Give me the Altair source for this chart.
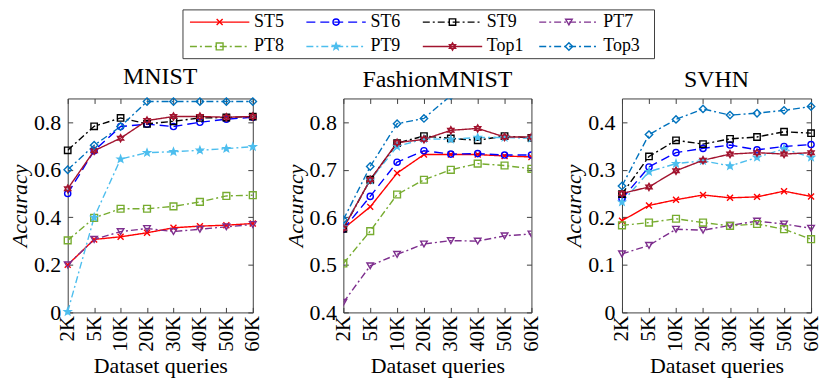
import math
import altair as alt
import pandas as pd

queries = ["2K", "5K", "10K", "20K", "30K", "40K", "50K", "60K"]
series = ["ST5", "ST6", "ST9", "PT7", "PT8", "PT9", "Top1", "Top3"]
colors = ["#FF0000", "#0000FF", "#000000", "#7E2F8E", "#77AC30", "#4DBEEE", "#A2142F", "#0072BD"]

mnist = {
    "ST5": [0.200, 0.307, 0.318, 0.335, 0.356, 0.363, 0.367, 0.374],
    "ST6": [0.500, 0.680, 0.782, 0.792, 0.782, 0.800, 0.813, 0.821],
    "ST9": [0.682, 0.783, 0.818, 0.793, 0.804, 0.818, 0.820, 0.824],
    "PT7": [0.200, 0.307, 0.340, 0.353, 0.340, 0.350, 0.360, 0.370],
    "PT8": [0.303, 0.398, 0.436, 0.436, 0.446, 0.465, 0.490, 0.493],
    "PT9": [0.003, 0.400, 0.645, 0.672, 0.676, 0.682, 0.689, 0.697],
    "Top1": [0.520, 0.680, 0.733, 0.807, 0.824, 0.824, 0.821, 0.824],
    "Top3": [0.600, 0.703, 0.782, 0.887, 0.887, 0.887, 0.887, 0.887],
}
fashion = {
    "ST5": [0.576, 0.622, 0.693, 0.732, 0.732, 0.732, 0.729, 0.727],
    "ST6": [0.575, 0.644, 0.716, 0.740, 0.733, 0.734, 0.731, 0.731],
    "ST9": [0.576, 0.679, 0.756, 0.771, 0.766, 0.762, 0.771, 0.767],
    "PT7": [0.421, 0.498, 0.522, 0.544, 0.551, 0.550, 0.561, 0.565],
    "PT8": [0.503, 0.571, 0.648, 0.679, 0.700, 0.713, 0.709, 0.702],
    "PT9": [0.580, 0.678, 0.749, 0.765, 0.764, 0.768, 0.768, 0.766],
    "Top1": [0.577, 0.679, 0.757, 0.764, 0.783, 0.787, 0.769, 0.769],
    "Top3": [0.595, 0.707, 0.797, 0.808, 0.856, 0.868, 0.872, 0.875],
}
svhn = {
    "ST5": [0.193, 0.225, 0.237, 0.247, 0.241, 0.243, 0.255, 0.244],
    "ST6": [0.239, 0.306, 0.336, 0.345, 0.352, 0.342, 0.349, 0.353],
    "ST9": [0.249, 0.328, 0.362, 0.354, 0.365, 0.369, 0.380, 0.377],
    "PT7": [0.123, 0.141, 0.175, 0.173, 0.183, 0.192, 0.186, 0.177],
    "PT8": [0.183, 0.189, 0.197, 0.189, 0.182, 0.186, 0.175, 0.154],
    "PT9": [0.232, 0.296, 0.313, 0.319, 0.308, 0.326, 0.344, 0.326],
    "Top1": [0.250, 0.264, 0.298, 0.320, 0.333, 0.336, 0.333, 0.336],
    "Top3": [0.266, 0.374, 0.406, 0.428, 0.415, 0.419, 0.425, 0.433],
}

# legend grid (column, row) of each series
legend_col = [0, 1, 2, 3, 0, 1, 2, 3]
legend_row = [0, 0, 0, 0, 1, 1, 1, 1]

FONT = "Liberation Serif"
FRAME = "#404040"

# styles
DASHDOT = [7, 3, 2, 3]
dashes = [[1, 0], [9, 5], DASHDOT, DASHDOT, DASHDOT, DASHDOT, [1, 0], DASHDOT]


def star_path(n, r_in):
    pts = []
    for i in range(2 * n):
        r = 1 if i % 2 == 0 else r_in
        a = math.pi * i / n - math.pi / 2
        pts.append(f"{r * math.cos(a):.3f},{r * math.sin(a):.3f}")
    return "M" + "L".join(pts) + "Z"


X_PATH = "M-1,-1L1,1M-1,1L1,-1"
HEX_PATH = "M0,-1L0.866,0.5L-0.866,0.5ZM0,1L0.866,-0.5L-0.866,-0.5Z"
shapes = [X_PATH, "circle", "square", "triangle-down", "square", star_path(5, 0.42), HEX_PATH, "diamond"]
fills = ["transparent"] * 5 + ["#4DBEEE"] + ["transparent"] * 2
sizes = [36, 55, 45, 60, 40, 110, 85, 60]

color_enc = alt.Color("series:N", scale=alt.Scale(domain=series, range=colors), legend=None)
dash_enc = alt.StrokeDash("series:N", scale=alt.Scale(domain=series, range=dashes), legend=None)
shape_enc = alt.Shape("series:N", scale=alt.Scale(domain=series, range=shapes), legend=None)
fill_enc = alt.Fill("series:N", scale=alt.Scale(domain=series, range=fills), legend=None)
size_enc = alt.Size("series:N", scale=alt.Scale(domain=series, range=sizes), legend=None)


def panel(name, data, ymin, ymax, ticks, w, clip_points):
    rows = []
    for s in series:
        for q, v in zip(queries, data[s]):
            rows.append({"series": s, "query": q, "acc": v})
    df = pd.DataFrame(rows)
    base = alt.Chart(df)
    xsc = alt.Scale(type="point", padding=0, domain=queries)
    ysc = alt.Scale(domain=[ymin, ymax], nice=False, zero=False)
    lines = base.mark_line(clip=True, strokeWidth=1.4).encode(
        x=alt.X("query:N", scale=xsc, sort=queries,
                axis=alt.Axis(orient="bottom", title="Dataset queries", labelAngle=-90,
                              offset=-5, tickSize=5, domain=False, grid=False,
                              labelPadding=3, titlePadding=4, labelOverlap=False)),
        y=alt.Y("acc:Q", scale=ysc,
                axis=alt.Axis(orient="left", values=ticks, format="~g", title="Accuracy",
                              titleFontStyle="italic", offset=-5, tickSize=5, domain=False,
                              grid=False, labelPadding=7, titlePadding=2)),
        color=color_enc,
        strokeDash=dash_enc,
    )
    points = base.mark_point(clip=clip_points, filled=False, strokeWidth=1.4, opacity=1).encode(
        x=alt.X("query:N", scale=xsc, sort=queries,
                axis=alt.Axis(orient="top", title=None, labels=False, offset=-5, tickSize=5,
                              domain=False, grid=False)),
        y=alt.Y("acc:Q", scale=ysc,
                axis=alt.Axis(orient="right", values=ticks, title=None, labels=False, offset=-5,
                              tickSize=5, domain=False, grid=False)),
        color=color_enc,
        shape=shape_enc,
        fill=fill_enc,
        size=size_enc,
    )
    return (alt.layer(lines, points)
            .resolve_axis(x="independent", y="independent")
            .properties(width=w, height=215, title=name))


p1 = panel("MNIST", mnist, 0, 0.9, [0, 0.2, 0.4, 0.6, 0.8], 186, False)
p2 = panel("FashionMNIST", fashion, 0.4, 0.85, [0.4, 0.5, 0.6, 0.7, 0.8], 189, True)
p3 = panel("SVHN", svhn, 0, 0.45, [0, 0.1, 0.2, 0.3, 0.4], 190, False)

# legend strip: its left edge lines up with the first panel's plot; one x unit = one legend column
LEG_W = 600
COL_PX = 117
LEG_START = -0.99
leg_df = pd.DataFrame({"series": series, "col": legend_col, "row": legend_row})
box_df = pd.DataFrame({"bx0": [0.0], "bx1": [4.05], "by0": [-0.5], "by1": [1.5]})
lx = alt.Scale(domain=[LEG_START, LEG_START + LEG_W / COL_PX], nice=False, zero=False)
ly = alt.Scale(domain=[-0.5, 1.5], nice=False, zero=False, reverse=True)
leg_base = alt.Chart(leg_df).transform_calculate(
    x0="datum.col + 0.06", x1="datum.col + 0.57", xm="datum.col + 0.315", xt="datum.col + 0.61"
)
leg_box = alt.Chart(box_df).mark_rect(fill="white", stroke=FRAME, strokeWidth=1).encode(
    x=alt.X("bx0:Q", scale=lx, axis=None), x2="bx1:Q",
    y=alt.Y("by0:Q", scale=ly, axis=None), y2="by1:Q",
)
leg_rule = leg_base.mark_rule(strokeWidth=1.4).encode(
    x=alt.X("x0:Q", scale=lx, axis=None), x2="x1:Q",
    y=alt.Y("row:Q", scale=ly, axis=None),
    color=color_enc, strokeDash=dash_enc,
)
leg_pts = leg_base.mark_point(filled=False, strokeWidth=1.4, opacity=1).encode(
    x=alt.X("xm:Q", scale=lx, axis=None),
    y=alt.Y("row:Q", scale=ly, axis=None),
    color=color_enc, shape=shape_enc, fill=fill_enc, size=size_enc,
)
leg_txt = leg_base.mark_text(align="left", baseline="middle", font=FONT, fontSize=18, color="black").encode(
    x=alt.X("xt:Q", scale=lx, axis=None),
    y=alt.Y("row:Q", scale=ly, axis=None),
    text="series:N",
)
legend = (alt.layer(leg_box, leg_rule, leg_pts, leg_txt)
          .properties(width=LEG_W, height=49, view=alt.ViewBackground(stroke="transparent")))

chart = (
    alt.vconcat(legend, alt.hconcat(p1, p2, p3, spacing=20), spacing=5)
    .properties(padding=0)
    .configure_view(stroke=FRAME, strokeWidth=1)
    .configure_axis(labelFont=FONT, titleFont=FONT, labelFontSize=22, titleFontSize=22,
                    titleFontWeight="normal", labelColor="black", titleColor="black",
                    tickColor=FRAME, tickWidth=1)
    .configure_axisX(labelFontSize=21)
    .configure_title(font=FONT, fontSize=24, fontWeight="normal", color="black", offset=6)
)

chart.save("out.html", embed_options={"renderer": "svg", "actions": False})
